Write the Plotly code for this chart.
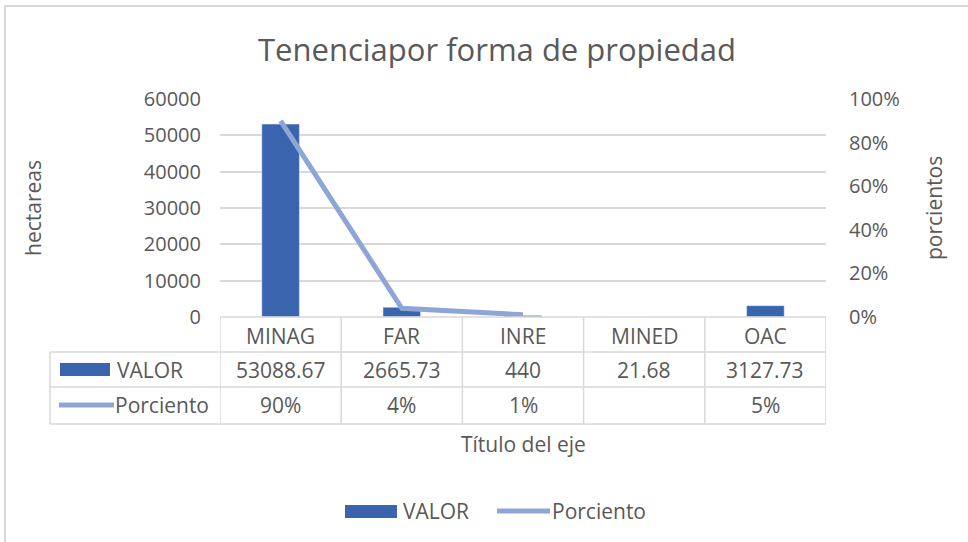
import plotly.graph_objects as go

categories = ["MINAG", "FAR", "INRE", "MINED", "OAC"]
valor = [53088.67, 2665.73, 440, 21.68, 3127.73]
porciento = [0.90, 0.04, 0.01, None, 0.05]
y_ticks = [0, 10000, 20000, 30000, 40000, 50000, 60000]
y2_ticks = [0, 0.2, 0.4, 0.6, 0.8, 1.0]

TITLE = "Tenenciapor forma de propiedad"
BAR_COLOR = "#3A64AD"
LINE_COLOR = "#8EA5D8"
TEXT = "#595959"
GRID = "#D9D9D9"
FONT = "Open Sans"

W_PX, H_PX = 968, 542
L, R, T, B = 220, 826, 99, 317
PW, PH = R - L, B - T


def px(x):
    return (x - L) / PW


def py(y):
    return (B - y) / PH


fig = go.Figure()
fig.add_trace(go.Bar(x=categories, y=valor, name="VALOR", marker_color=BAR_COLOR,
                     width=0.31, showlegend=False))
fig.add_trace(go.Scatter(x=categories, y=porciento, name="Porciento", mode="lines",
                         line=dict(color=LINE_COLOR, width=5), connectgaps=False,
                         yaxis="y2", showlegend=False))

shapes = []
annotations = []

# table lines
row_y = [352, 387, 424]
shapes.append(dict(type="line", xref="paper", yref="paper", x0=px(L), x1=px(R),
                   y0=py(B), y1=py(B), line=dict(color=GRID, width=1.5)))
for yy in row_y:
    shapes.append(dict(type="line", xref="paper", yref="paper", x0=px(50), x1=px(R),
                       y0=py(yy), y1=py(yy), line=dict(color=GRID, width=1.5)))
shapes.append(dict(type="line", xref="paper", yref="paper", x0=px(50), x1=px(50),
                   y0=py(352), y1=py(424), line=dict(color=GRID, width=1.5)))
for i in range(len(categories) + 1):
    shapes.append(dict(type="line", xref="x", yref="paper", x0=i - 0.5, x1=i - 0.5,
                       y0=py(B), y1=py(424), line=dict(color=GRID, width=1.5)))

tfont = dict(family=FONT, size=20, color=TEXT)
tbl_font = dict(family=FONT, size=21, color=TEXT)


def fmt_val(v):
    return f"{v:.2f}".rstrip("0").rstrip(".")


def ann(x, y, text, xref="paper", xanchor="center", font=tfont, **kw):
    annotations.append(dict(x=x, xref=xref, y=y, yref="paper", text=text, showarrow=False,
                            xanchor=xanchor, yanchor="middle", font=font, **kw))


for i, c in enumerate(categories):
    ann(c, py(336), c, xref="x", font=tbl_font)
    ann(c, py(370), fmt_val(valor[i]), xref="x", font=tbl_font)
    p = porciento[i]
    if p is not None:
        ann(c, py(405), f"{round(p * 100)}%", xref="x", font=tbl_font)

# row labels
shapes.append(dict(type="rect", xref="paper", yref="paper", x0=px(60), x1=px(110),
                   y0=py(363), y1=py(376), fillcolor=BAR_COLOR, line=dict(width=0)))
ann(px(115), py(370), "VALOR", xanchor="left", font=tbl_font)
shapes.append(dict(type="line", xref="paper", yref="paper", x0=px(59), x1=px(114),
                   y0=py(405), y1=py(405), line=dict(color=LINE_COLOR, width=5)))
ann(px(113), py(405), "Porciento", xanchor="left", font=tbl_font)

# axis titles
ann(px(33), py(208), "hectareas", textangle=-90, font=tbl_font)
ann(px(934), py(208), "porcientos", textangle=-90, font=tbl_font)
ann(px(523), py(444), "Título del eje", font=tbl_font)

# legend
shapes.append(dict(type="rect", xref="paper", yref="paper", x0=px(345), x1=px(397),
                   y0=py(505), y1=py(518), fillcolor=BAR_COLOR, line=dict(width=0)))
ann(px(401), py(511), "VALOR", xanchor="left", font=tbl_font)
shapes.append(dict(type="line", xref="paper", yref="paper", x0=px(497), x1=px(550),
                   y0=py(511), y1=py(511), line=dict(color=LINE_COLOR, width=5)))
ann(px(550), py(511), "Porciento", xanchor="left", font=tbl_font)

# chart border (only top and left visible in frame)
shapes.append(dict(type="rect", xref="paper", yref="paper", x0=px(5), x1=px(990),
                   y0=py(6), y1=py(570), line=dict(color=GRID, width=2)))

fig.update_layout(
    width=W_PX, height=H_PX,
    margin=dict(l=L, r=W_PX - R, t=T, b=H_PX - B, autoexpand=False),
    paper_bgcolor="white", plot_bgcolor="white",
    title=dict(text=TITLE, x=497 / W_PX, xanchor="center", y=1 - 50 / H_PX, yanchor="middle",
               font=dict(family=FONT, size=31, color=TEXT)),
    xaxis=dict(range=[-0.5, 4.5], showticklabels=False, showgrid=False, showline=False,
               zeroline=False, ticks=""),
    yaxis=dict(range=[0, 60000], tickvals=y_ticks, ticktext=[str(v) for v in y_ticks],
               gridcolor=GRID, gridwidth=1.5, zeroline=False, showline=False,
               tickfont=tfont, ticklabelstandoff=18),
    yaxis2=dict(range=[0, 1], overlaying="y", side="right", tickvals=y2_ticks,
                ticktext=[f"{round(v * 100)}%" for v in y2_ticks], showgrid=False,
                zeroline=False, showline=False, tickfont=tfont, ticklabelstandoff=22),
    shapes=shapes, annotations=annotations, showlegend=False,
)

fig.write_html("out.html", config={"displayModeBar": False},
               post_script="document.body.style.margin='0';document.body.style.overflow='hidden';")
